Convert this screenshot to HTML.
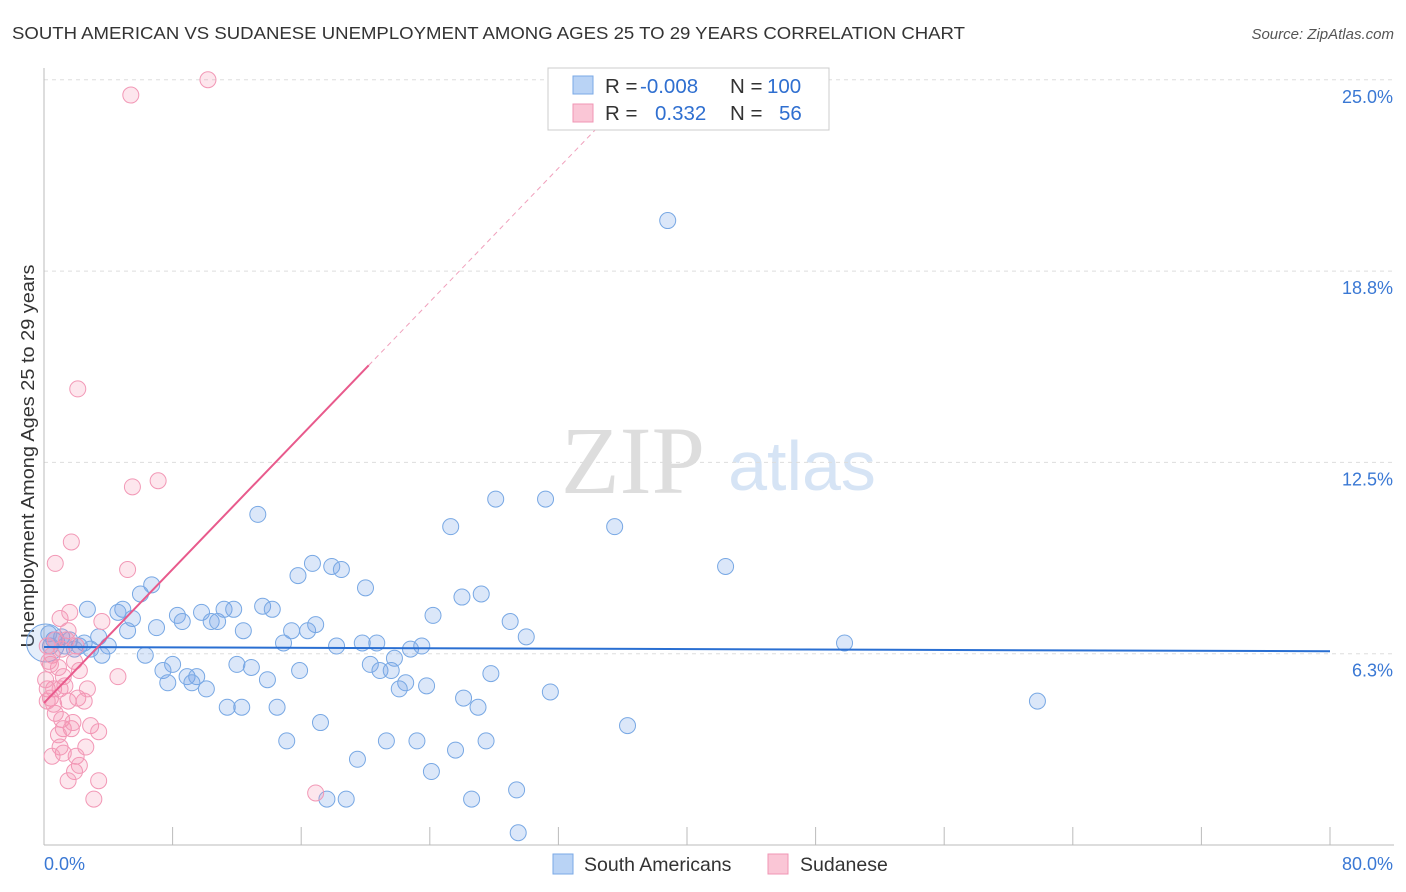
<!DOCTYPE html>
<html><head><meta charset="utf-8">
<style>
body{margin:0;background:#fff;font-family:"Liberation Sans",sans-serif;}
#wrap{position:relative;width:1406px;height:892px;overflow:hidden;}
</style></head>
<body>
<div id="wrap">
<svg id="svg" width="1406" height="892" xmlns="http://www.w3.org/2000/svg">
<text x="12" y="39" font-size="17.5" fill="#333" textLength="953" lengthAdjust="spacingAndGlyphs">SOUTH AMERICAN VS SUDANESE UNEMPLOYMENT AMONG AGES 25 TO 29 YEARS CORRELATION CHART</text>
<text x="1394" y="39" font-size="15" fill="#555" font-style="italic" text-anchor="end">Source: ZipAtlas.com</text>
<text x="633" y="493" font-size="96" font-family="Liberation Serif,serif" fill="#ddd" text-anchor="middle">ZIP</text>
<text x="802" y="490" font-size="70" fill="#d6e4f5" text-anchor="middle">atlas</text>
<text transform="translate(34,456) rotate(-90)" font-size="18" fill="#333" text-anchor="middle" textLength="383" lengthAdjust="spacingAndGlyphs">Unemployment Among Ages 25 to 29 years</text>
<g id="grid"></g><g id="axes"></g><g id="pts"></g><g id="lines"></g>
<g>
<rect x="548" y="68" width="281" height="62" fill="#fff" stroke="#ccc"/>
<rect x="573" y="76" width="20" height="18" fill="#b9d3f5" stroke="#7aa8e6"/>
<rect x="573" y="104" width="20" height="18" fill="#fac6d6" stroke="#f096b4"/>
<text x="605" y="93" font-size="20.5" fill="#333">R = <tspan x="640" fill="#2f6fd0">-0.008</tspan></text>
<text x="730" y="93" font-size="20.5" fill="#333">N = <tspan x="767" fill="#2f6fd0">100</tspan></text>
<text x="605" y="120" font-size="20.5" fill="#333">R = <tspan x="655" fill="#2f6fd0">0.332</tspan></text>
<text x="730" y="120" font-size="20.5" fill="#333">N = <tspan x="779" fill="#2f6fd0">56</tspan></text>
</g>
<g>
<rect x="553" y="854" width="20" height="20" fill="#b9d3f5" stroke="#7aa8e6"/>
<text x="584" y="871" font-size="19.5" fill="#333">South Americans</text>
<rect x="768" y="854" width="20" height="20" fill="#fac6d6" stroke="#f096b4"/>
<text x="800" y="871" font-size="19.5" fill="#333">Sudanese</text>
</g>
</svg>
</div>
<script>
const yTicks=[6.25,12.5,18.75,25];
const yTickLabels=["6.3%","12.5%","18.8%","25.0%"];
const xTicks=[0,8,16,24,32,40,48,56,64,72,80];
const blueX=[38.8,28.1,31.2,13.3,25.3,35.5,42.4,16.7,17.9,18.5,15.8,6.7,20.0,6.0,4.9,2.7,4.6,5.5,8.3,8.6,9.8,10.4,10.8,11.2,11.8,13.6,14.2,7.0,5.2,12.4,15.4,16.4,16.9,24.2,26.0,27.2,29.0,30.0,49.8,3.4,4.0,1.1,1.6,2.2,2.9,0.6,0.4,3.6,6.3,14.9,18.2,19.8,20.7,21.8,22.8,23.5,8.0,7.4,8.9,9.5,12.0,12.9,15.9,20.3,20.9,21.6,7.7,9.2,10.1,13.9,22.5,22.1,23.8,27.8,31.5,26.1,27.0,11.4,12.3,14.5,17.2,36.3,61.8,15.1,21.3,23.2,27.5,25.6,19.5,24.1,29.4,17.6,18.8,26.6,29.5,0.1,1.3,2.5,1.9,0.3];
const blueY=[20.4,11.3,11.3,10.8,10.4,10.4,9.1,9.2,9.1,9.0,8.8,8.5,8.4,8.2,7.7,7.7,7.6,7.4,7.5,7.3,7.6,7.3,7.3,7.7,7.7,7.8,7.7,7.1,7.0,7.0,7.0,7.0,7.2,7.5,8.1,8.2,7.3,6.8,6.6,6.8,6.5,6.8,6.7,6.5,6.4,6.7,6.5,6.2,6.2,6.6,6.5,6.6,6.6,6.1,6.4,6.5,5.9,5.7,5.5,5.5,5.9,5.8,5.7,5.9,5.7,5.7,5.3,5.3,5.1,5.4,5.3,5.1,5.2,5.6,5.0,4.8,4.5,4.5,4.5,4.5,4.0,3.9,4.7,3.4,3.4,3.4,3.4,3.1,2.8,2.4,1.8,1.5,1.5,1.5,0.4,6.6,6.5,6.6,6.4,6.9];
const pinkX=[10.2,5.4,2.1,7.1,5.5,1.7,0.7,5.2,1.0,3.6,1.5,0.7,0.2,1.1,1.9,0.4,2.2,1.2,0.6,0.2,1.0,4.6,0.4,1.5,2.1,2.5,0.7,1.1,2.9,3.4,1.2,1.7,2.6,1.0,2.0,1.2,2.2,1.9,3.4,1.5,3.1,16.9,0.5,0.9,1.6,0.1,0.6,2.7,1.4,2.0,0.2,0.9,0.5,1.3,1.8,0.3];
const pinkY=[25.0,24.5,14.9,11.9,11.7,9.9,9.2,9.0,7.4,7.3,7.0,6.7,6.5,6.4,6.0,5.9,5.7,5.5,5.1,5.1,5.1,5.5,4.8,4.7,4.8,4.7,4.3,4.1,3.9,3.7,3.8,3.8,3.2,3.2,2.9,3.0,2.6,2.4,2.1,2.1,1.5,1.7,6.2,5.8,7.6,5.4,4.6,5.1,6.7,6.5,4.7,3.6,2.9,5.2,4.0,6.0];
const blueFit=[6.47,6.33];
const pinkFit=[4.64,0.546];
const NS="http://www.w3.org/2000/svg";
const sx=v=>44+v*16.075, sy=v=>845-v*30.61;
function mk(tag,attrs,parent){const e=document.createElementNS(NS,tag);for(const k in attrs)e.setAttribute(k,attrs[k]);document.getElementById(parent).appendChild(e);return e;}
yTicks.forEach((t,i)=>{
 const l=mk('line',{x1:44,x2:1394,y1:sy(t),y2:sy(t),stroke:'#ddd','stroke-dasharray':'4,4'},'grid');
 
 
 const tx=mk('text',{x:1393,y:sy(t)+23,'font-size':18,fill:'#3a78d4','text-anchor':'end'},'grid');
 tx.textContent=yTickLabels[i];
 
 
});
const ax=mk('line',{x1:44,x2:1394,y1:845,y2:845,stroke:'#bbb'},'axes');


const ay=mk('line',{x1:44,x2:44,y1:68,y2:845,stroke:'#bbb'},'axes');


xTicks.forEach(t=>{
 const l=mk('line',{x1:sx(t),x2:sx(t),y1:827,y2:845,stroke:'#bbb'},'axes');
 
 
});
const xl0=mk('text',{x:44,y:870,'font-size':18,fill:'#3a78d4'},'axes');xl0.textContent='0.0%';


const xl1=mk('text',{x:1393,y:870,'font-size':18,fill:'#3a78d4','text-anchor':'end'},'axes');xl1.textContent='80.0%';


blueX.forEach((x,i)=>{
 const r=(i===95)?19:8;
 const c=mk('circle',{cx:sx(x),cy:sy(blueY[i]),r:r,fill:(i===95)?'rgba(110,160,230,0.18)':'rgba(110,160,230,0.25)',stroke:'#78a8e4','stroke-width':1},'pts');
 
 
});
pinkX.forEach((x,i)=>{
 const c=mk('circle',{cx:sx(x),cy:sy(pinkY[i]),r:8,fill:'rgba(245,140,175,0.22)',stroke:'#f298b6','stroke-width':1},'pts');
 
 
});
const bl=mk('line',{x1:sx(0),y1:sy(blueFit[0]),x2:sx(80),y2:sy(blueFit[1]),stroke:'#2a6fd2','stroke-width':2},'lines');


const pf=x=>pinkFit[0]+pinkFit[1]*x;
const pl=mk('line',{x1:sx(0),y1:sy(pf(0)),x2:sx(20.2),y2:sy(pf(20.2)),stroke:'#e85a8c','stroke-width':2},'lines');


const pd=mk('line',{x1:sx(20.2),y1:sy(pf(20.2)),x2:sx(34.5),y2:sy(pf(34.5)),stroke:'#f0a0bc','stroke-width':1,'stroke-dasharray':'5,4'},'lines');


</script>
</body></html>
